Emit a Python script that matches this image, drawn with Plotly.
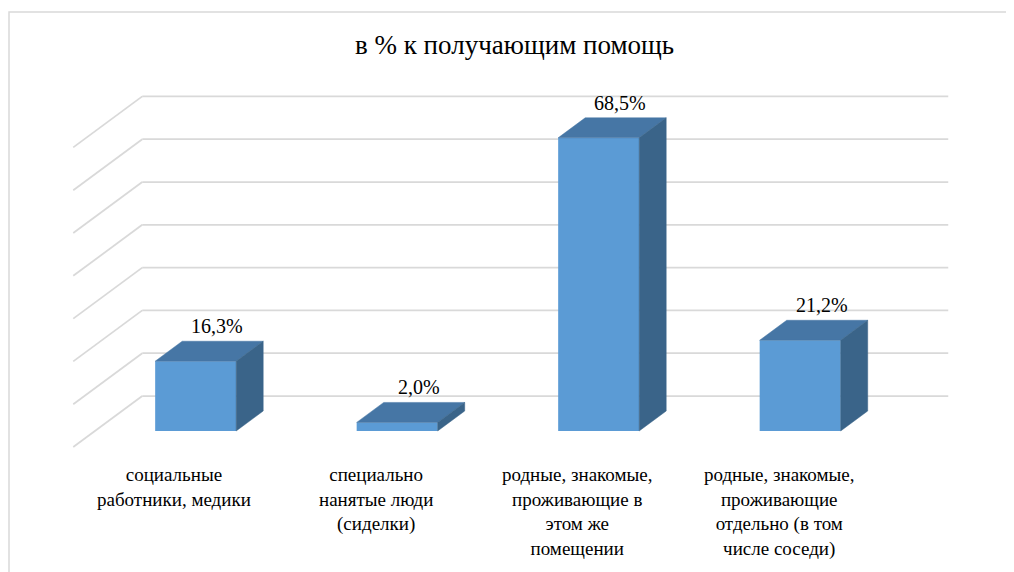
import plotly.graph_objects as go

# ---- data ----
categories = [
    "социальные<br>работники, медики",
    "специально<br>нанятые люди<br>(сиделки)",
    "родные, знакомые,<br>проживающие в<br>этом же<br>помещении",
    "родные, знакомые,<br>проживающие<br>отдельно (в том<br>числе соседи)",
]
values = [16.3, 2.0, 68.5, 21.2]
grid_ticks = [0, 10, 20, 30, 40, 50, 60, 70]
title_text = "в % к получающим помощь"

# ---- style / projection constants (window pixels) ----
PAGE_MARGIN = 8
WIN_W, WIN_H = 1014, 572
W_PX, H_PX = WIN_W - PAGE_MARGIN, WIN_H - PAGE_MARGIN
PX_PER_CAT = 201.5
PX_PER_PCT = 4.28
X0_PX, Y0_PX = 174 - PAGE_MARGIN, 447 - PAGE_MARGIN
DEPTH_DX_PX, DEPTH_DY_PX = 69, 51
KX = DEPTH_DX_PX / PX_PER_CAT
KY = DEPTH_DY_PX / PX_PER_PCT
D0, D1 = 0.314, 0.706
BAR_W = 81 / PX_PER_CAT
FRONT = "#5B9BD5"
TOP = "#4676A5"
SIDE = "#3A6489"
GRID = "#D9D9D9"
FONT = "'Liberation Serif', 'DejaVu Serif', serif"

n = len(values)
fig = go.Figure()

fig.add_trace(go.Bar(
    x=[i + D0 * KX for i in range(n)],
    y=values,
    base=[D0 * KY] * n,
    width=BAR_W,
    marker=dict(color=FRONT, line=dict(width=0)),
    hoverinfo="skip",
))

dd = D1 - D0
tx, ty, sx, sy = [], [], [], []
for i, v in enumerate(values):
    xl = i + D0 * KX - BAR_W / 2
    xr = i + D0 * KX + BAR_W / 2
    yb = D0 * KY
    yt = yb + v
    tx += [xl, xr, xr + dd * KX, xl + dd * KX, xl, None]
    ty += [yt, yt, yt + dd * KY, yt + dd * KY, yt, None]
    sx += [xr, xr, xr + dd * KX, xr + dd * KX, xr, None]
    sy += [yb, yt, yt + dd * KY, yb + dd * KY, yb, None]

fig.add_trace(go.Scatter(x=tx, y=ty, fill="toself", fillcolor=TOP, mode="lines",
                         line=dict(color=TOP, width=0.5), hoverinfo="skip"))
fig.add_trace(go.Scatter(x=sx, y=sy, fill="toself", fillcolor=SIDE, mode="lines",
                         line=dict(color=SIDE, width=0.5), hoverinfo="skip"))

shapes = []
xl_wall = -0.5
xr_wall = n - 0.5
for t in grid_ticks:
    shapes.append(dict(type="line", xref="x", yref="y", layer="below",
                       x0=xl_wall + KX, x1=xr_wall + KX, y0=t + KY, y1=t + KY,
                       line=dict(color=GRID, width=1.75)))
    shapes.append(dict(type="line", xref="x", yref="y", layer="below",
                       x0=xl_wall, x1=xl_wall + KX, y0=t, y1=t + KY,
                       line=dict(color=GRID, width=1.75)))
shapes.append(dict(type="rect", xref="paper", yref="paper", layer="below",
                   x0=0.001, x1=1.01, y0=-0.01, y1=1 - (12 - PAGE_MARGIN) / H_PX,
                   line=dict(color=GRID, width=1.5)))

annotations = []
for i, v in enumerate(values):
    annotations.append(dict(
        x=i + D0 * KX + dd * KX * 0.8, y=D0 * KY + v + dd * KY,
        xref="x", yref="y", text=f"{v:.1f}".replace(".", ",") + "%",
        showarrow=False, yanchor="middle", yshift=15,
        font=dict(family=FONT, size=20, color="#000000")))
for i, c in enumerate(categories):
    annotations.append(dict(
        x=i, y=1 - (462 - PAGE_MARGIN) / H_PX, xref="x", yref="paper", text=c,
        showarrow=False, yanchor="top", align="center",
        font=dict(family=FONT, size=19, color="#000000")))
annotations.append(dict(
    x=(514 - PAGE_MARGIN) / W_PX, y=1 - (45 - PAGE_MARGIN) / H_PX,
    xref="paper", yref="paper", text=title_text,
    showarrow=False, yanchor="middle", xanchor="center",
    font=dict(family=FONT, size=27, color="#000000")))

fig.update_layout(
    width=W_PX, height=H_PX,
    margin=dict(l=0, r=0, t=0, b=0),
    paper_bgcolor="white", plot_bgcolor="white",
    showlegend=False,
    font=dict(family=FONT),
    shapes=shapes, annotations=annotations,
    xaxis=dict(range=[(0 - X0_PX) / PX_PER_CAT, (W_PX - X0_PX) / PX_PER_CAT],
               visible=False, fixedrange=True),
    yaxis=dict(range=[(Y0_PX - H_PX) / PX_PER_PCT, Y0_PX / PX_PER_PCT],
               visible=False, fixedrange=True),
)

fig.write_html("out.html")
